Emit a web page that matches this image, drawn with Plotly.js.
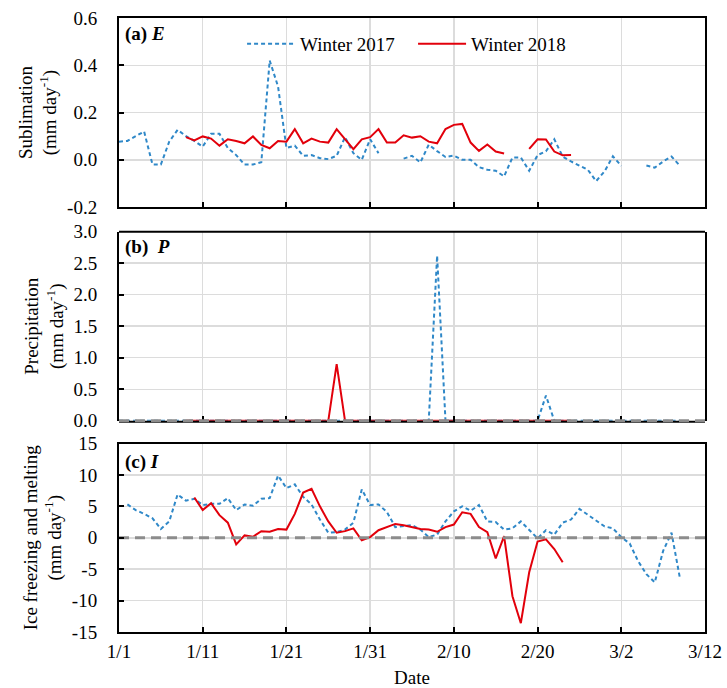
<!DOCTYPE html>
<html>
<head>
<meta charset="utf-8">
<script src="https://cdn.plot.ly/plotly-3.0.1.min.js"></script>
<style>
  html, body { margin: 0; padding: 0; background: #fff; }
  #chart { width: 727px; height: 688px; }
</style>
</head>
<body>
<div id="chart"></div>
<script>
// Day index: 0 = 1/1, 70 = 3/12
const tickVals = [0, 10, 20, 30, 40, 50, 60, 70];
const tickText = ['1/1', '1/11', '1/21', '1/31', '2/10', '2/20', '3/2', '3/12'];

const eTickVals = [-0.2, 0, 0.2, 0.4, 0.6];
const eTickText = ['-0.2', '0.0', '0.2', '0.4', '0.6'];
const pTickVals = [0, 0.5, 1, 1.5, 2, 2.5, 3];
const pTickText = ['0.0', '0.5', '1.0', '1.5', '2.0', '2.5', '3.0'];
const iTickVals = [-15, -10, -5, 0, 5, 10, 15];
const iTickText = ['-15', '-10', '-5', '0', '5', '10', '15'];

// (a) Sublimation E
const eDays2017 = Array.from({length: 68}, (_, i) => i);
const e2017 = [0.077, 0.08, 0.10, 0.12, -0.02, -0.02, 0.077, 0.127, 0.10, 0.08,
  0.056, 0.11, 0.11, 0.05, 0.02, -0.02, -0.02, -0.01, 0.42, 0.31,
  0.05, 0.06, 0.017, 0.02, 0.007, 0.003, 0.017, 0.096, 0.028, 0.0,
  0.087, 0.028, null, null, 0.005, 0.017, -0.011, 0.064, 0.037, 0.012,
  0.018, 0.0, 0.0, -0.031, -0.042, -0.046, -0.07, 0.01, 0.01, -0.046,
  0.02, 0.036, 0.087, 0.014, -0.007, -0.024, -0.042, -0.09, -0.049, 0.015,
  -0.025, null, null, -0.024, -0.033, -0.007, 0.014, -0.025];
const eDays2018 = Array.from({length: 47}, (_, i) => i + 8);
const e2018 = [0.096, 0.082, 0.099, 0.09, 0.06, 0.087, 0.08, 0.07, 0.099, 0.063,
  0.049, 0.08, 0.077, 0.13, 0.07, 0.09, 0.077, 0.073, 0.13, 0.085,
  0.045, 0.087, 0.096, 0.13, 0.073, 0.073, 0.104, 0.094, 0.10, 0.077,
  0.07, 0.13, 0.148, 0.152, 0.073, 0.038, 0.065, 0.035, 0.027, null,
  null, 0.046, 0.087, 0.086, 0.035, 0.019, 0.02];

// (b) Precipitation P
const pDays2017 = Array.from({length: 68}, (_, i) => i);
const p2017 = pDays2017.map(d => d === 38 ? 2.62 : (d === 51 ? 0.4 : 0));
const pDays2018 = Array.from({length: 47}, (_, i) => i + 8);
const p2018 = pDays2018.map(d => d === 26 ? 0.9 : 0);

// (c) Ice freezing and melting I
const iDays2017 = Array.from({length: 67}, (_, i) => i + 1);
const i2017 = [5.3, 4.4, 3.8, 3.1, 1.4, 2.6, 6.9, 5.9, 6.2, 5.2,
  5.4, 5.4, 6.3, 4.4, 5.3, 5.1, 6.2, 6.3, 9.9, 7.9,
  8.5, 6.5, 5.3, 2.9, 0.8, 0.9, 1.3, 2.4, 7.7, 5.2,
  5.3, 4.1, 1.7, 1.8, 2.0, 1.3, 0.1, 0.5, 2.6, 4.2,
  5.0, 4.3, 5.2, 2.6, 2.5, 1.3, 1.5, 2.6, 1.3, -0.1,
  1.2, 0.5, 2.4, 2.9, 4.6, 3.7, 2.8, 1.8, 1.5, 0.1,
  -0.9, -3.7, -5.8, -7.1, -2.1, 0.8, -6.4];
const iDays2018 = Array.from({length: 45}, (_, i) => i + 9);
const i2018 = [6.4, 4.4, 5.5, 3.6, 2.4, -1.05, 0.37, 0.16, 1.05, 0.95,
  1.4, 1.3, 3.8, 7.2, 7.8, 5.0, 2.6, 0.8, 1.05, 1.5,
  -0.4, 0.1, 1.2, 1.7, 2.2, 2.0, 1.7, 1.4, 1.3, 0.95,
  1.7, 2.1, 4.05, 3.8, 1.7, 0.9, -3.3, 0.26, -9.3, -13.6,
  -5.5, -0.6, -0.26, -1.8, -3.9];

// zero reference line (start / end day, value)
const refDays = [0, 70];
const refVals = [0, 0];

const FONT = "'Liberation Serif', 'Times New Roman', Times, serif";
const BLUE = '#2F88C8';
const RED = '#E2000B';
const GRAY = '#8C8C8C';

const blueLine = {color: BLUE, width: 2, dash: '4px,3px'};
const redLine = {color: RED, width: 2};
const grayLine = {color: GRAY, width: 3, dash: '10px,6px'};
const frameLine = {color: '#000', width: 2};

const traces = [
  {x: eDays2017, y: e2017, xaxis: 'x', yaxis: 'y', mode: 'lines', line: blueLine, name: 'Winter 2017', connectgaps: false},
  {x: eDays2018, y: e2018, xaxis: 'x', yaxis: 'y', mode: 'lines', line: redLine, name: 'Winter 2018', connectgaps: false},
  {x: pDays2017, y: p2017, xaxis: 'x2', yaxis: 'y2', mode: 'lines', line: blueLine, showlegend: false},
  {x: pDays2018, y: p2018, xaxis: 'x2', yaxis: 'y2', mode: 'lines', line: redLine, showlegend: false},
  {x: iDays2017, y: i2017, xaxis: 'x3', yaxis: 'y3', mode: 'lines', line: blueLine, showlegend: false},
  {x: iDays2018, y: i2018, xaxis: 'x3', yaxis: 'y3', mode: 'lines', line: redLine, showlegend: false},
  {x: refDays, y: refVals, xaxis: 'x3', yaxis: 'y3', mode: 'lines', line: grayLine, showlegend: false}
];

function xAxis(anchor, showLabels, showLine) {
  const ax = {
    anchor: anchor, range: [0, 70], tickvals: tickVals, ticktext: tickText,
    showticklabels: showLabels, ticks: 'inside', ticklen: 5, tickwidth: 2, tickcolor: '#000',
    showgrid: true, gridcolor: '#dcdcdc', gridwidth: 1.5,
    showline: showLine, linecolor: '#000', linewidth: 2, mirror: true,
    zeroline: false, tickfont: {family: FONT, size: 19, color: '#000'},
    ticklabelstandoff: 1
  };
  if (showLabels) {
    ax.title = {text: 'Date', font: {family: FONT, size: 19, color: '#000'}, standoff: 10};
  }
  return ax;
}
function yAxis(anchor, domain, range, tv, tt, title) {
  return {
    anchor: anchor, domain: domain, range: range, tickvals: tv, ticktext: tt,
    ticks: 'inside', ticklen: 5, tickwidth: 2, tickcolor: '#000',
    showgrid: true, gridcolor: '#dcdcdc', gridwidth: 1.5,
    showline: true, linecolor: '#000', linewidth: 2, mirror: true,
    zeroline: false, tickfont: {family: FONT, size: 19, color: '#000'},
    ticklabelstandoff: 16,
    title: {text: title, font: {family: FONT, size: 19, color: '#000'}, standoff: 5}
  };
}

const layout = {
  width: 727, height: 688,
  margin: {l: 119, r: 22, t: 18, b: 56},
  paper_bgcolor: '#fff', plot_bgcolor: '#fff',
  font: {family: FONT, size: 19, color: '#000'},
  showlegend: true,
  legend: {
    orientation: 'h', x: 0.21, xanchor: 'left', y: 0.958, yanchor: 'middle',
    bgcolor: 'rgba(0,0,0,0)', font: {family: FONT, size: 19, color: '#000'},
    itemwidth: 48, entrywidth: 108, entrywidthmode: 'pixels'
  },
  xaxis: xAxis('y', false, true),
  xaxis2: xAxis('y2', false, false),
  xaxis3: xAxis('y3', true, true),
  yaxis: yAxis('x', [0.692, 1], [-0.2, 0.6], eTickVals, eTickText, 'Sublimation<br>(mm day<sup>-1</sup>)'),
  yaxis2: yAxis('x2', [0.344, 0.652], [0, 3], pTickVals, pTickText, 'Precipitation<br>(mm day<sup>-1</sup>)'),
  yaxis3: yAxis('x3', [0, 0.307], [-15, 15], iTickVals, iTickText, 'Ice freezing and melting<br>(mm day<sup>-1</sup>)'),
  shapes: [
    // panel (b) frame: bottom edge just under the plot area, top edge
    {type: 'line', layer: 'above', xref: 'x2 domain', yref: 'y2 domain', ysizemode: 'pixel', yanchor: 0,
     x0: 0, x1: 1, y0: -1, y1: -1, line: frameLine},
    {type: 'line', layer: 'above', xref: 'x2 domain', yref: 'y2 domain', x0: 0, x1: 1, y0: 1, y1: 1, line: frameLine},
    // zero reference line of panel (b): lies on the bottom edge (y = 0 is the range minimum)
    {type: 'line', layer: 'above', xref: 'x2 domain', yref: 'y2 domain',
     x0: refDays[0] / 70, x1: refDays[1] / 70, y0: refVals[0], y1: refVals[1], line: grayLine}
  ],
  annotations: [
    {xref: 'x domain', yref: 'y domain', x: 0.006, y: 0.915, xanchor: 'left', yanchor: 'middle', showarrow: false,
     text: '<b>(a) <i>E</i></b>', font: {family: FONT, size: 19, color: '#000'}},
    {xref: 'x2 domain', yref: 'y2 domain', x: 0.006, y: 0.92, xanchor: 'left', yanchor: 'middle', showarrow: false,
     text: '<b>(b)  <i>P</i></b>', font: {family: FONT, size: 19, color: '#000'}},
    {xref: 'x3 domain', yref: 'y3 domain', x: 0.006, y: 0.9, xanchor: 'left', yanchor: 'middle', showarrow: false,
     text: '<b>(c) <i>I</i></b>', font: {family: FONT, size: 19, color: '#000'}}
  ]
};

Plotly.newPlot('chart', traces, layout, {staticPlot: true, displayModeBar: false});
</script>
</body>
</html>
